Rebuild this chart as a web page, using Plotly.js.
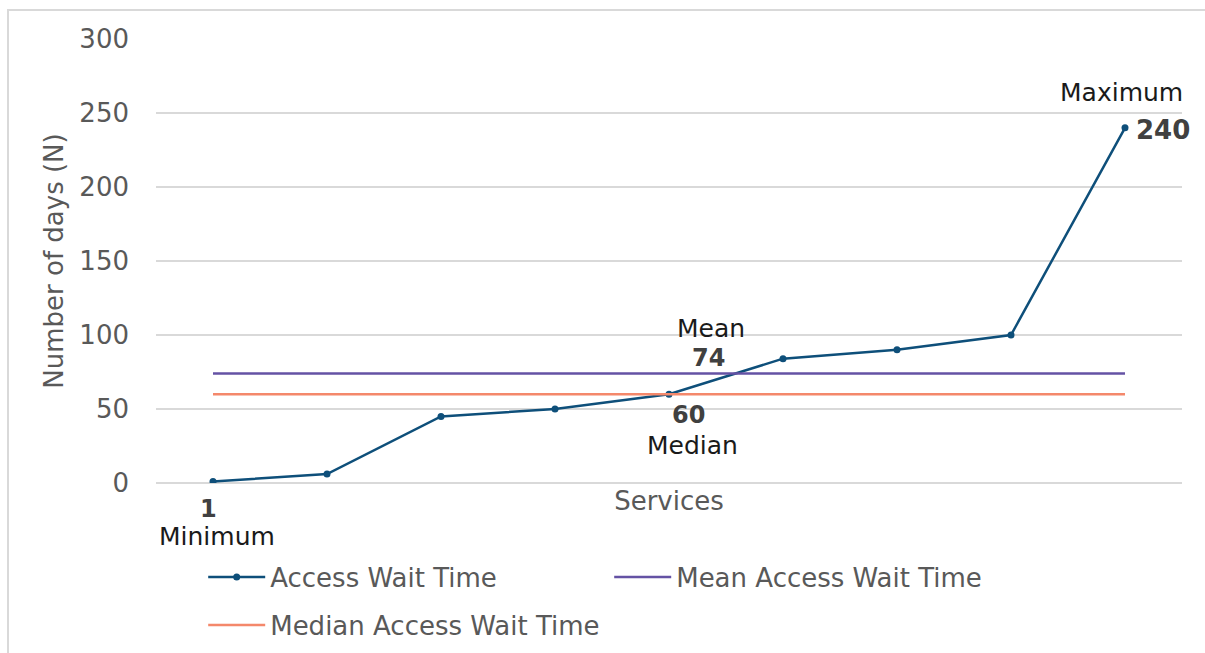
<!DOCTYPE html>
<html>
<head>
<meta charset="utf-8">
<script src="https://cdn.plot.ly/plotly-3.0.1.min.js"></script>
<style>
html,body{margin:0;padding:0;background:#fff;}
#chart{width:1205px;height:653px;position:relative;}
#frame{position:absolute;left:7px;top:9px;width:1300px;height:800px;border:2px solid #d9d9d9;pointer-events:none;}
</style>
</head>
<body>
<div id="chart"></div>
<div id="frame"></div>
<script>
// ---- data ----
const services = [0, 1, 2, 3, 4, 5, 6, 7, 8];
const waitTimes = [1, 6, 45, 50, 60, 84, 90, 100, 240];
const meanValue = 74;
const medianValue = 60;
const yTicks = [0, 50, 100, 150, 200, 250, 300];
const seriesNames = ["Access Wait Time", "Mean Access Wait Time", "Median Access Wait Time"];

const FONT = "DejaVu Sans, Open Sans, sans-serif";
const GREY = "#595959";
const FS = 26;

const traces = [
  {
    x: services, y: waitTimes, name: seriesNames[0], type: "scatter", mode: "lines+markers",
    line: {color: "#0e4f7a", width: 2.5}, marker: {color: "#0e4f7a", size: 7},
    legend: "legend"
  },
  {
    x: services, y: services.map(() => meanValue), name: seriesNames[1], type: "scatter", mode: "lines",
    line: {color: "#6452a4", width: 2.5}, legend: "legend"
  },
  {
    x: services, y: services.map(() => medianValue), name: seriesNames[2], type: "scatter", mode: "lines",
    line: {color: "#f4886b", width: 2.5}, legend: "legend2"
  }
];

const iMin = 0, iMax = waitTimes.length - 1, iMed = waitTimes.indexOf(medianValue);
const lab = {family: FONT, size: 25, color: "#1a1a1a"};
const num = {family: FONT, size: 24, color: "#404040", weight: "bold"};
const annotations = [
  {x: iMin, y: waitTimes[iMin], text: "<b>" + waitTimes[iMin] + "</b>", font: num, xshift: -5, yshift: -27},
  {x: iMin, y: waitTimes[iMin], text: "Minimum", font: lab, xshift: 4, yshift: -55},
  {x: iMed, y: medianValue, text: "<b>" + medianValue + "</b>", font: num, xshift: 19, yshift: -21},
  {x: iMed, y: medianValue, text: "Median", font: lab, xshift: 23, yshift: -51},
  {x: iMed, y: meanValue, text: "<b>" + meanValue + "</b>", font: num, xshift: 39, yshift: 15},
  {x: iMed, y: meanValue, text: "Mean", font: lab, xshift: 42, yshift: 45},
  {x: iMax, y: waitTimes[iMax], text: "Maximum", font: lab, xshift: -4, yshift: 35},
  {x: iMax, y: waitTimes[iMax], text: "<b>" + waitTimes[iMax] + "</b>", font: {family: FONT, size: 26, color: "#404040", weight: "bold"}, xshift: 38, yshift: -2}
].map(a => Object.assign({xref: "x", yref: "y", showarrow: false, xanchor: "center", yanchor: "middle", borderpad: 0}, a));

const layout = {
  width: 1205, height: 653,
  margin: {l: 156, r: 23, t: 39, b: 170, autoexpand: false},
  paper_bgcolor: "#fff", plot_bgcolor: "#fff",
  font: {family: FONT, size: FS, color: GREY},
  showlegend: true,
  xaxis: {
    range: [-0.5, 8.5], showticklabels: false, showgrid: false, zeroline: false, showline: false,
    title: {text: "Services", font: {family: FONT, size: FS, color: GREY}, standoff: 8},
    fixedrange: true
  },
  yaxis: {
    range: [0, 300], tickvals: yTicks, ticktext: yTicks.map(String),
    showgrid: true, gridcolor: "#d9d9d9", gridwidth: 1.5,
    zeroline: true, zerolinecolor: "#d9d9d9", zerolinewidth: 1.5, showline: false,
    ticklabelstandoff: 26,
    tickfont: {family: FONT, size: FS, color: GREY},
    title: {text: "Number of days (N)", font: {family: FONT, size: FS, color: GREY}, standoff: 8},
    fixedrange: true
  },
  legend: {
    orientation: "h", x: 0.046, xanchor: "left", y: -0.212, yanchor: "middle",
    entrywidth: 334, entrywidthmode: "pixels", itemwidth: 57,
    font: {family: FONT, size: FS, color: GREY}, bgcolor: "rgba(0,0,0,0)", itemclick: false
  },
  legend2: {
    orientation: "h", x: 0.046, xanchor: "left", y: -0.32, yanchor: "middle", itemwidth: 57,
    font: {family: FONT, size: FS, color: GREY}, bgcolor: "rgba(0,0,0,0)", itemclick: false
  },
  annotations: annotations
};

Plotly.newPlot("chart", traces, layout, {displayModeBar: false, staticPlot: true});
</script>
</body>
</html>
